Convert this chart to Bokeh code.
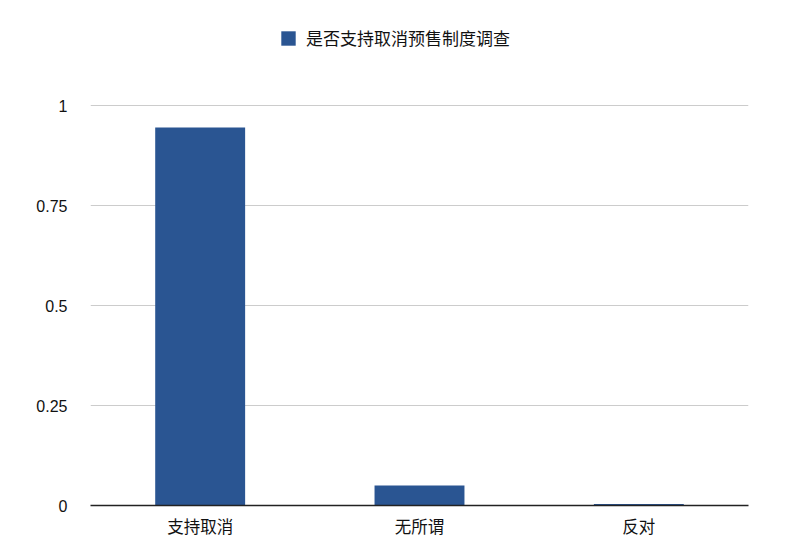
from bokeh.plotting import figure
from bokeh.embed import file_html
from bokeh.resources import INLINE
from bokeh.models import (
    ColumnDataSource,
    FactorRange,
    Range1d,
    FixedTicker,
    NumeralTickFormatter,
    Legend,
    LegendItem,
)

# ── Data ───────────────────────────────────────────────
categories = ["支持取消", "无所谓", "反对"]
values = [0.945, 0.05, 0.004]
series_name = "是否支持取消预售制度调查"
y_ticks = [0, 0.25, 0.5, 0.75, 1]

BAR = "#2a5592"
FONT = "Noto Sans CJK SC"

src = ColumnDataSource(dict(cat=categories, val=values))

# frame runs up to the legend row; only 0..1 carries ticks and grid
p = figure(
    width=794,
    height=551,
    x_range=FactorRange(*categories, range_padding=0),
    y_range=Range1d(0, 1.2125),
    output_backend="svg",
    toolbar_location=None,
    min_border_left=90,
    min_border_right=46,
    min_border_bottom=46,
    min_border_top=20,
)
p.outline_line_color = None
p.background_fill_color = "white"
p.border_fill_color = "white"

r = p.vbar(x="cat", top="val", width=0.41, source=src,
           fill_color=BAR, line_color=None)

# grid
p.xgrid.grid_line_color = None
p.ygrid.grid_line_color = "#cccccc"
p.ygrid.grid_line_width = 1
p.yaxis.ticker = FixedTicker(ticks=y_ticks)

# axes
p.yaxis.formatter = NumeralTickFormatter(format="0.[00]")
p.yaxis.axis_line_color = None
p.yaxis.major_tick_line_color = None
p.yaxis.minor_tick_line_color = None
p.yaxis.major_label_standoff = 17
p.yaxis.major_label_text_font = "Liberation Sans"
p.yaxis.major_label_text_font_size = "16px"
p.xaxis.axis_line_color = "#222222"
p.xaxis.axis_line_width = 1.5
p.xaxis.major_tick_line_color = None
p.xaxis.minor_tick_line_color = None
p.xaxis.major_label_standoff = 2
p.xaxis.major_label_text_font = FONT
p.xaxis.major_label_text_font_size = "16.5px"
for ax in (p.xaxis, p.yaxis):
    ax.major_label_text_color = "#111111"

# legend row at the top of the frame
legend = Legend(items=[LegendItem(label=series_name, renderers=[r])],
                orientation="horizontal", location=(189, 455))
legend.label_text_font = FONT
legend.label_text_font_size = "17px"
legend.label_text_color = "#111111"
legend.label_standoff = 9
legend.label_height = 17
legend.glyph_width = 18
legend.glyph_height = 18
legend.border_line_color = None
legend.background_fill_alpha = 0
legend.margin = 0
legend.padding = 0
p.add_layout(legend)

open("out.html", "w").write(file_html(p, INLINE))
